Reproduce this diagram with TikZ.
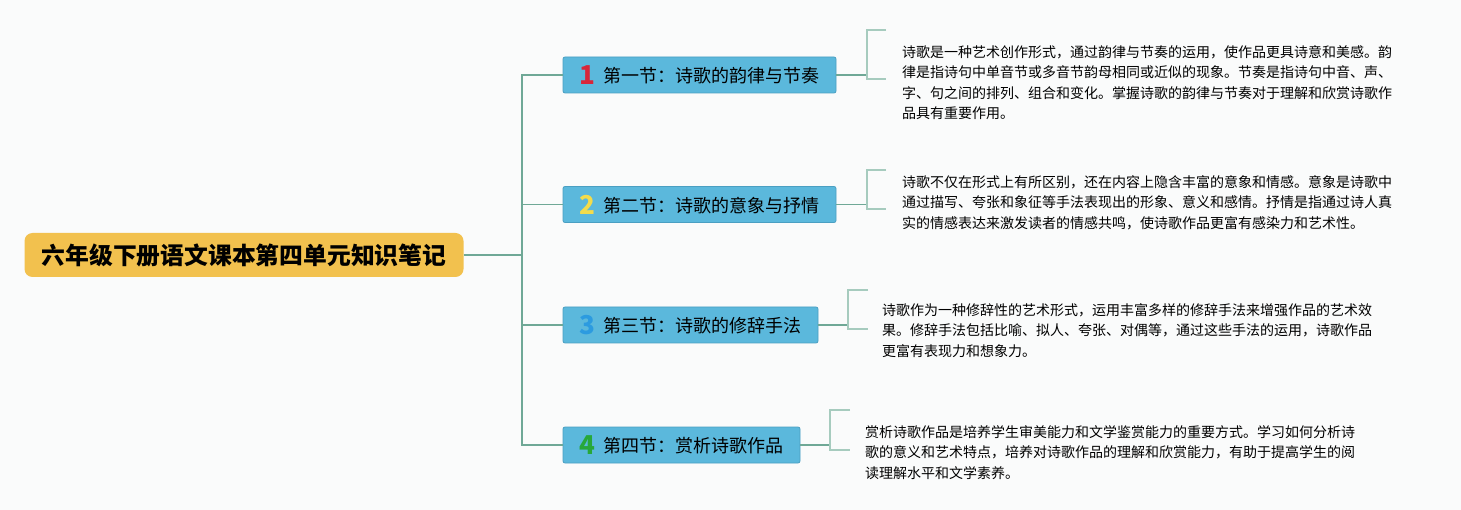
\documentclass[tikz,border=0pt]{standalone}
\usepackage{fontspec}
\setmainfont{Noto Sans CJK SC}
\definecolor{bgc}{HTML}{FAFBFB}
\definecolor{rootc}{HTML}{F2C14E}
\definecolor{boxc}{HTML}{5BB8DC}
\definecolor{boxb}{HTML}{4A9FC2}
\definecolor{linec}{HTML}{6FA896}
\definecolor{brc}{HTML}{A6CBBE}
\definecolor{nred}{HTML}{D8263A}
\definecolor{nyel}{HTML}{F3DC4C}
\definecolor{nblu}{HTML}{2C9BE0}
\definecolor{ngrn}{HTML}{27A83A}
\newcommand{\secnum}[2]{\textcolor{#1}{\raisebox{-1.5pt}{\fontsize{26}{26}\selectfont\bfseries #2}}\hspace{9pt}}
\begin{document}
\begin{tikzpicture}[x=1pt,y=-1pt,
  rootbox/.style={fill=rootc,rounded corners=8pt,minimum height=44pt,inner sep=0pt,
    font=\fontsize{23.8}{26}\selectfont\bfseries},
  secbox/.style={fill=boxc,draw=boxb,line width=0.8pt,rounded corners=2pt,minimum height=36pt,inner sep=0pt,
    font=\fontsize{18}{20}\selectfont},
  conn/.style={draw=linec,line width=1.3pt},
  brk/.style={draw=brc,line width=1.3pt},
  note/.style={anchor=north west,inner sep=0pt,align=left,font=\fontsize{14}{20.5}\selectfont}]
\fill[bgc] (0,0) rectangle (1461,510);
\useasboundingbox (0,0) rectangle (1461,510);

\node[rootbox,minimum width=439pt] (root) at (244,255) {六年级下册语文课本第四单元知识笔记};

\node[secbox,minimum width=273pt] (s1) at (699.5,75) {\secnum{nred}{1}第一节：诗歌的韵律与节奏};
\node[secbox,minimum width=273pt] (s2) at (699.5,204.5) {\secnum{nyel}{2}第二节：诗歌的意象与抒情};
\node[secbox,minimum width=255pt] (s3) at (690.5,325) {\secnum{nblu}{3}第三节：诗歌的修辞手法};
\node[secbox,minimum width=237pt] (s4) at (681.5,445) {\secnum{ngrn}{4}第四节：赏析诗歌作品};

\coordinate (tr) at (522,255);
\draw[conn] (root.east) -- (tr);
\draw[conn] (tr) |- (s1.west);
\draw[conn] (tr) |- (s2.west);
\draw[conn] (tr) |- (s3.west);
\draw[conn] (tr) |- (s4.west);

% brackets
\coordinate (k1) at (867,75);
\coordinate (k2) at (867,204.5);
\coordinate (k3) at (848,325);
\coordinate (k4) at (830,445);
\draw[conn] (s1.east) -- (k1);
\draw[conn] (s2.east) -- (k2);
\draw[conn] (s3.east) -- (k3);
\draw[conn] (s4.east) -- (k4);
\draw[brk] (886,30) -- (867,30) -- (867,79) -- (886,79);
\draw[brk] (886,170) -- (867,170) -- (867,209) -- (886,209);
\draw[brk] (868,290) -- (848,290) -- (848,329) -- (868,329);
\draw[brk] (850,410) -- (830,410) -- (830,450) -- (850,450);

\node[note] (t1) at (902,45) {诗歌是一种艺术创作形式，通过韵律与节奏的运用，使作品更具诗意和美感。韵\\律是指诗句中单音节或多音节韵母相同或近似的现象。节奏是指诗句中音、声、\\字、句之间的排列、组合和变化。掌握诗歌的韵律与节奏对于理解和欣赏诗歌作\\品具有重要作用。};
\node[note] (t2) at (902,175) {诗歌不仅在形式上有所区别，还在内容上隐含丰富的意象和情感。意象是诗歌中\\通过描写、夸张和象征等手法表现出的形象、意义和感情。抒情是指通过诗人真\\实的情感表达来激发读者的情感共鸣，使诗歌作品更富有感染力和艺术性。};
\node[note] (t3) at (882,303) {诗歌作为一种修辞性的艺术形式，运用丰富多样的修辞手法来增强作品的艺术效\\果。修辞手法包括比喻、拟人、夸张、对偶等，通过这些手法的运用，诗歌作品\\更富有表现力和想象力。};
\node[note] (t4) at (865,425) {赏析诗歌作品是培养学生审美能力和文学鉴赏能力的重要方式。学习如何分析诗\\歌的意义和艺术特点，培养对诗歌作品的理解和欣赏能力，有助于提高学生的阅\\读理解水平和文学素养。};
\end{tikzpicture}
\end{document}
